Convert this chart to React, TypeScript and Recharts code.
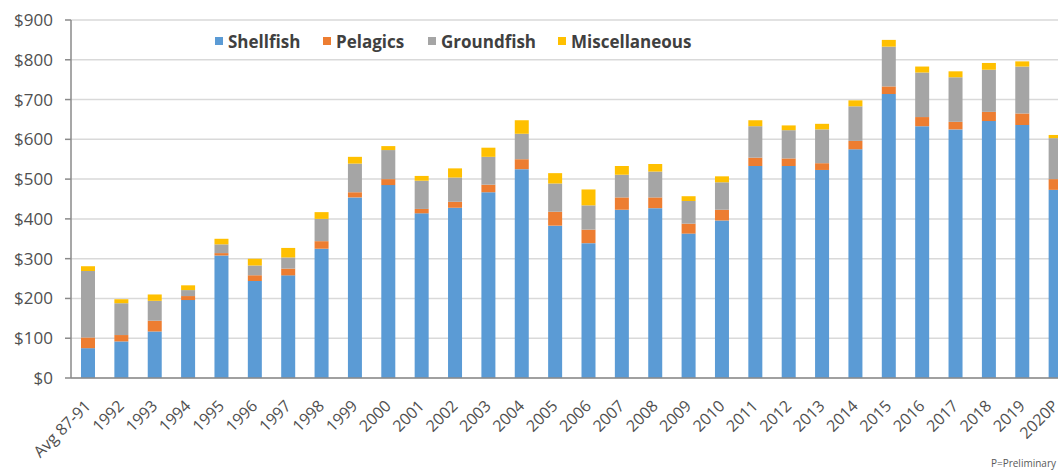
import React from 'react';
import { BarChart, Bar, XAxis, YAxis, CartesianGrid } from 'recharts';

const categories = [
  'Avg 87-91', '1992', '1993', '1994', '1995', '1996', '1997', '1998', '1999', '2000',
  '2001', '2002', '2003', '2004', '2005', '2006', '2007', '2008', '2009', '2010',
  '2011', '2012', '2013', '2014', '2015', '2016', '2017', '2018', '2019', '2020P',
];
const shellfish = [75, 92, 117, 196, 308, 244, 258, 325, 454, 485, 414, 428, 467, 525, 383, 339, 423, 427, 363, 396, 533, 533, 523, 575, 714, 633, 625, 646, 636, 473];
const pelagics = [27, 16, 27, 10, 6, 14, 17, 19, 13, 15, 11, 15, 19, 25, 35, 34, 31, 27, 25, 27, 21, 19, 17, 21, 19, 23, 19, 23, 29, 27];
const groundfish = [167, 80, 50, 15, 22, 25, 28, 56, 72, 73, 71, 61, 70, 64, 71, 61, 57, 65, 57, 69, 79, 71, 85, 87, 100, 112, 112, 106, 118, 103];
const miscellaneous = [12, 10, 16, 12, 14, 17, 24, 17, 17, 10, 12, 23, 23, 34, 26, 40, 22, 19, 12, 15, 15, 12, 14, 15, 17, 15, 15, 17, 13, 8];
const yTicks = [0, 100, 200, 300, 400, 500, 600, 700, 800, 900];

const seriesNames = ['Shellfish', 'Pelagics', 'Groundfish', 'Miscellaneous'];
const seriesColors = ['#5B9BD5', '#ED7D31', '#A5A5A5', '#FFC000'];
const seriesValues = [shellfish, pelagics, groundfish, miscellaneous];

const data = categories.map((name, i) => {
  const row: Record<string, any> = { name };
  seriesNames.forEach((s, k) => { row[s] = seriesValues[k][i]; });
  return row;
});

const FONT = "'Open Sans', 'DejaVu Sans', sans-serif";
const AXIS = '#8A8A8A';

const XTick = (props: any) => {
  const { x, y, payload } = props;
  return (
    <g transform={`translate(${x},${y + 17})`}>
      <text x={0} y={0} dy="0.35em" textAnchor="end" transform="rotate(-45)" fill="#505050" fontSize={16} fontFamily={FONT}>
        {payload.value}
      </text>
    </g>
  );
};

const legendLeft = [215, 323, 428, 558];

export default function App() {
  return (
    <div style={{ position: 'absolute', left: 0, top: 0, width: 1058, height: 471, overflow: 'hidden', background: '#fff' }}>
      <BarChart width={1072} height={471} data={data} margin={{ top: 20, right: 0, left: 0, bottom: 0 }} barCategoryGap={0}>
        <CartesianGrid vertical={false} stroke="#D9D9D9" strokeWidth={1.5} />
        <XAxis
          dataKey="name"
          height={93}
          interval={0}
          tickLine={false}
          axisLine={{ stroke: AXIS, strokeWidth: 1.5 }}
          tick={<XTick />}
        />
        <YAxis
          width={71}
          domain={[0, 900]}
          ticks={yTicks}
          tickFormatter={(v: number) => `$${v}`}
          axisLine={{ stroke: AXIS, strokeWidth: 1.5 }}
          tickLine={{ stroke: AXIS, strokeWidth: 1.5 }}
          tickSize={6}
          tickMargin={12}
          tick={{ fill: '#505050', fontSize: 17, fontFamily: FONT }}
        />
        {seriesNames.map((s, k) => (
          <Bar key={s} dataKey={s} stackId="a" fill={seriesColors[k]} barSize={14} isAnimationActive={false} />
        ))}
      </BarChart>
      {seriesNames.map((s, k) => (
        <div key={s} style={{ position: 'absolute', left: legendLeft[k], top: 30, height: 22, display: 'flex', alignItems: 'center', fontFamily: FONT, fontWeight: 700, fontSize: 17, color: '#404040' }}>
          <span style={{ display: 'inline-block', width: 8, height: 8, background: seriesColors[k], marginRight: 5 }} />
          <span>{s}</span>
        </div>
      ))}
      <div style={{ position: 'absolute', right: 2, top: 456, fontFamily: FONT, fontSize: 10, color: '#595959' }}>P=Preliminary</div>
    </div>
  );
}
